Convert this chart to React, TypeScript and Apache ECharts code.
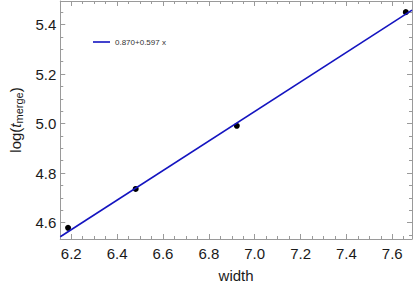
import React, { useEffect, useRef } from "react";
import * as echarts from "echarts";

const pointsX = [6.186, 6.481, 6.922, 7.659];
const pointsY = [4.579, 4.736, 4.991, 5.45];
const fitLabel = "0.870+0.597 x";
const fitX = [6.152, 7.686];
const fitY = [4.543, 5.458];
const xMajor = [6.2, 6.4, 6.6, 6.8, 7.0, 7.2, 7.4, 7.6];
const yMajor = [4.6, 4.8, 5.0, 5.2, 5.4];
const X_MIN = 6.152;
const X_MAX = 7.686;
const Y_MIN = 4.534;
const Y_MAX = 5.495;

function minorTicks(major: number[], step: number, lo: number, hi: number) {
  const out: number[] = [];
  const start = major[0] - step * 4;
  for (let i = 0; i < 60; i++) {
    const v = Math.round((start + i * step) * 1000) / 1000;
    if (v > lo && v < hi) out.push(v);
  }
  return out;
}

const FRAME = "#9a9a9a";
const FONT = "Liberation Sans";
const LINE_COLOR = "#1414c0";

export default function App() {
  const ref = useRef<HTMLDivElement>(null);
  useEffect(() => {
    if (!ref.current) return;
    const chart = echarts.init(ref.current, undefined, { renderer: "svg" });
    const xMinor = minorTicks(xMajor, 0.05, X_MIN, X_MAX);
    const yMinor = minorTicks(yMajor, 0.05, Y_MIN, Y_MAX);
    const xAx = (pos: "top" | "bottom", vals: number[], len: number, labels: boolean, line: boolean) => ({
      type: "value",
      position: pos,
      min: X_MIN,
      max: X_MAX,
      axisLine: { show: line, onZero: false, lineStyle: { color: FRAME, width: 1 } },
      axisTick: { show: true, inside: true, length: len, customValues: vals, lineStyle: { color: FRAME } },
      axisLabel: labels
        ? { show: true, customValues: xMajor, formatter: (v: number) => v.toFixed(1), color: "#1a1a1a", fontSize: 15, fontFamily: FONT, margin: 7 }
        : { show: false },
      splitLine: { show: false },
    });
    const yAx = (pos: "left" | "right", vals: number[], len: number, labels: boolean, line: boolean) => ({
      type: "value",
      position: pos,
      min: Y_MIN,
      max: Y_MAX,
      axisLine: { show: line, onZero: false, lineStyle: { color: FRAME, width: 1 } },
      axisTick: { show: true, inside: true, length: len, customValues: vals, lineStyle: { color: FRAME } },
      axisLabel: labels
        ? { show: true, customValues: yMajor, formatter: (v: number) => v.toFixed(1), color: "#1a1a1a", fontSize: 15, fontFamily: FONT, margin: 4 }
        : { show: false },
      splitLine: { show: false },
    });
    const xAxes: any[] = [
      { ...xAx("bottom", xMajor, 5, true, true), name: "width", nameLocation: "middle", nameGap: 29, nameTextStyle: { fontSize: 15, fontFamily: FONT, color: "#1a1a1a" } },
      xAx("bottom", xMinor, 3, false, false),
      xAx("top", xMajor, 5, false, true),
      xAx("top", xMinor, 3, false, false),
    ];
    const yAxes: any[] = [
      {
        ...yAx("left", yMajor, 5, true, true),
        name: "{a|log(}{i|t}{s|merge}{a|)}",
        nameLocation: "middle",
        nameRotate: 90,
        nameGap: 30,
        nameTextStyle: {
          rich: {
            a: { fontSize: 15, fontFamily: FONT, color: "#1a1a1a" },
            i: { fontSize: 15, fontFamily: FONT, fontStyle: "italic", color: "#1a1a1a" },
            s: { fontSize: 11, fontFamily: FONT, color: "#1a1a1a", padding: [7, 0, 0, 0] },
          },
        },
      },
      yAx("left", yMinor, 3, false, false),
      yAx("right", yMajor, 5, false, true),
      yAx("right", yMinor, 3, false, false),
    ];
    chart.setOption({
      animation: false,
      grid: { left: 53, right: 2, top: 1, bottom: 52, containLabel: false },
      legend: {
        data: [{ name: fitLabel, icon: "rect", itemStyle: { color: LINE_COLOR } }],
        left: 88,
        top: 33,
        itemWidth: 17,
        itemHeight: 1.6,
        itemGap: 4,
        textStyle: { fontSize: 8, fontFamily: FONT, color: "#333", padding: [0, 0, 0, 0] },
      },
      xAxis: xAxes,
      yAxis: yAxes,
      series: [
        {
          name: fitLabel,
          type: "line",
          data: fitX.map((x, i) => [x, fitY[i]]),
          symbol: "none",
          lineStyle: { color: LINE_COLOR, width: 1.6 },
          itemStyle: { color: LINE_COLOR },
          xAxisIndex: 0,
          yAxisIndex: 0,
          clip: true,
        },
        {
          name: "data",
          type: "scatter",
          data: pointsX.map((x, i) => [x, pointsY[i]]),
          symbolSize: 6,
          itemStyle: { color: "#000", opacity: 1 },
          xAxisIndex: 0,
          yAxisIndex: 0,
        },
      ],
    });
    return () => chart.dispose();
  }, []);
  return <div ref={ref} style={{ position: "fixed", left: 0, top: 0, width: 414, height: 291, background: "#fff" }} />;
}
